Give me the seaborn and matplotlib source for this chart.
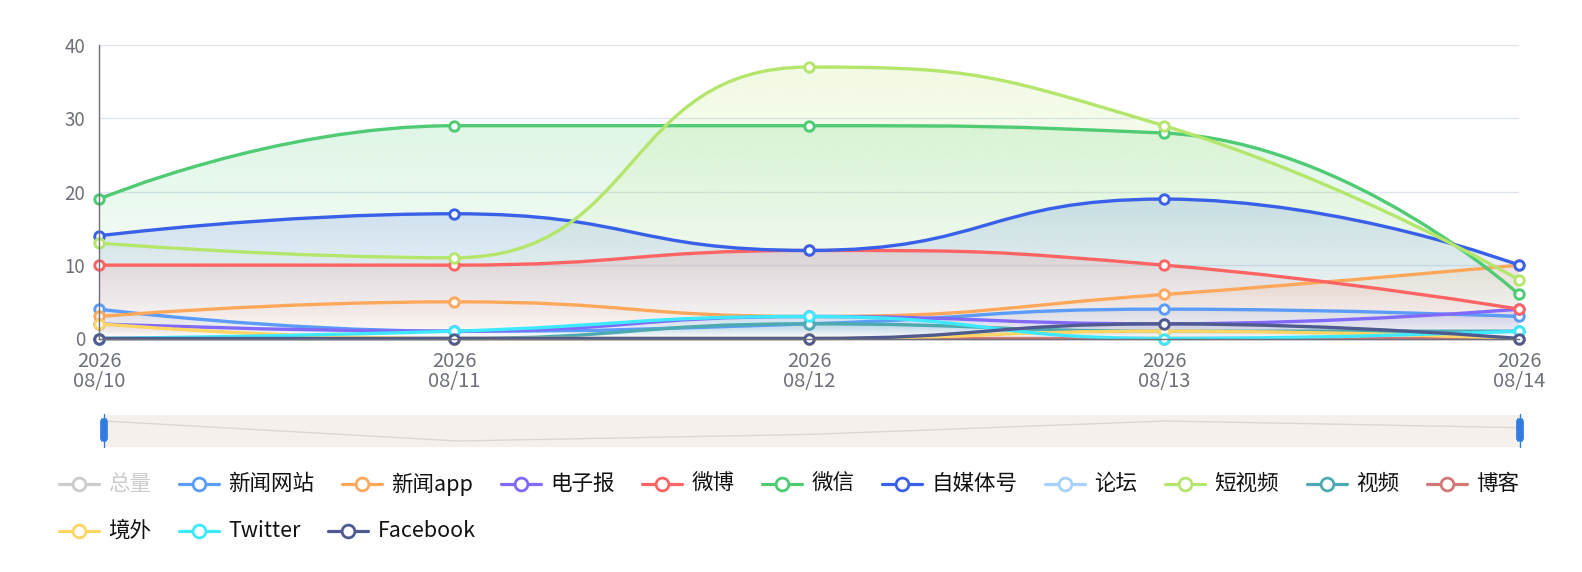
import numpy as np
import pandas as pd
import matplotlib
matplotlib.use("Agg")
import matplotlib.pyplot as plt
import seaborn as sns
from matplotlib.path import Path
from matplotlib.patches import PathPatch, FancyBboxPatch
from matplotlib.lines import Line2D
from matplotlib.colors import to_rgb

# ---- data ----
dates = ["2026-08-10", "2026-08-11", "2026-08-12", "2026-08-13", "2026-08-14"]

series_names = ["总量", "新闻网站", "新闻app", "电子报", "微博", "微信", "自媒体号",
                "论坛", "短视频", "视频", "博客", "境外", "Twitter", "Facebook"]
series_colors = ["#c8c8c8", "#5a9cf8", "#ffa85b", "#8069fb", "#ff6464", "#4ecb73", "#3860e8",
                 "#a6d2ff", "#b5e66c", "#4caab0", "#d27676", "#ffd563", "#3de9ff", "#4f5b8f"]

news_site = [4, 1, 2, 4, 3]
news_app = [3, 5, 3, 6, 10]
e_paper = [2, 1, 3, 2, 4]
weibo = [10, 10, 12, 10, 4]
wechat = [19, 29, 29, 28, 6]
we_media = [14, 17, 12, 19, 10]
forum = [0, 0, 0, 0, 0]
short_video = [13, 11, 37, 29, 8]
video = [0, 0, 2, 1, 1]
blog = [0, 0, 0, 0, 0]
overseas = [2, 0, 0, 1, 0]
twitter = [0, 1, 3, 0, 1]
facebook = [0, 0, 0, 2, 0]

# 总量 is switched off in the legend, so it has nothing drawn
series_values = [None, news_site, news_app, e_paper, weibo, wechat, we_media,
                 forum, short_video, video, blog, overseas, twitter, facebook]

y_ticks = [0, 10, 20, 30, 40]

# ---- style ----
sns.set_theme(style="white")
plt.rcParams['font.family'] = ['Noto Sans CJK SC', 'DejaVu Sans']

W, H = 1582, 572
AXIS_GREY = "#6e7079"
fig = plt.figure(figsize=(W / 100, H / 100), dpi=100)
fig.patch.set_facecolor("white")


def px_box(x0, y0, x1, y1):
    # pixel box (top-left origin) -> figure fraction rect
    return [x0 / W, 1 - y1 / H, (x1 - x0) / W, (y1 - y0) / H]


ax = fig.add_axes(px_box(99, 45, 1519, 338.5))


def smooth_path(xs, ys, sx, sy, smooth=0.5):
    # echarts style smooth line: bezier control points clamped between neighbours
    px = [x * sx for x in xs]
    py = [y * sy for y in ys]
    n = len(px)
    verts = [(px[0], py[0])]
    codes = [Path.MOVETO]
    cp0 = (px[0], py[0])
    for i in range(1, n):
        x, y = px[i], py[i]
        prx, pry = px[i - 1], py[i - 1]
        if i == n - 1:
            cp1 = (x, y)
            nxt = None
        else:
            nx, ny = px[i + 1], py[i + 1]
            vx, vy = nx - prx, ny - pry
            d0 = np.hypot(x - prx, y - pry)
            d1 = np.hypot(nx - x, ny - y)
            r = d1 / (d0 + d1)
            ncx = x + vx * smooth * r
            ncy = y + vy * smooth * r
            ncx = max(min(ncx, max(nx, x)), min(nx, x))
            ncy = max(min(ncy, max(ny, y)), min(ny, y))
            vx, vy = ncx - x, ncy - y
            c1x = x - vx * d0 / d1
            c1y = y - vy * d0 / d1
            c1x = max(min(c1x, max(prx, x)), min(prx, x))
            c1y = max(min(c1y, max(pry, y)), min(pry, y))
            vx, vy = x - c1x, y - c1y
            cp1 = (c1x, c1y)
            nxt = (x + vx * d1 / d0, y + vy * d1 / d0)
        verts += [cp0, cp1, (x, y)]
        codes += [Path.CURVE4] * 3
        cp0 = nxt
    verts = [(vx_ / sx, vy_ / sy) for vx_, vy_ in verts]
    return verts, codes


x_pos = np.arange(len(dates))
sx = (1519 - 99) / (len(dates) - 1)
sy = (338.5 - 45) / 40.0
area_alpha = 0.18

for i, (name, vals, col) in enumerate(zip(series_names, series_values, series_colors)):
    if vals is None:
        continue
    verts, codes = smooth_path(list(x_pos), vals, sx, sy)
    z = 2 + i * 0.01

    top = max(vals)
    if top > 0:
        area = Path(verts + [(x_pos[-1], 0), (x_pos[0], 0), (x_pos[0], 0)],
                    codes + [Path.LINETO, Path.LINETO, Path.CLOSEPOLY])
        grad = np.zeros((256, 1, 4))
        grad[..., :3] = to_rgb(col)
        grad[..., 3] = np.linspace(0, area_alpha, 256)[:, None]
        im = ax.imshow(grad, extent=[x_pos[0], x_pos[-1], 0, top], origin="lower",
                       aspect="auto", interpolation="bilinear", zorder=1)
        im.set_clip_path(PathPatch(area, transform=ax.transData))

    ax.add_patch(PathPatch(Path(verts, codes), fill=False, edgecolor=col, lw=2.4,
                           capstyle="round", joinstyle="round", zorder=z, clip_on=False))
    sns.scatterplot(x=x_pos, y=vals, ax=ax, color=col, facecolor="white", edgecolor=col,
                    s=46, linewidth=2.1, zorder=z + 0.005, clip_on=False, legend=False)

ax.set_xlim(x_pos[0], x_pos[-1])
ax.set_ylim(0, 40)
ax.set_aspect("auto")

ax.set_yticks(y_ticks)
ax.set_yticklabels([str(t) for t in y_ticks])
ax.set_xticks(x_pos)
ax.set_xticklabels([d[:4] + "\n" + d[5:].replace("-", "/") for d in dates],
                   linespacing=0.95)
ax.tick_params(axis="y", length=0, pad=10, labelsize=13.5, labelcolor=AXIS_GREY)
ax.tick_params(axis="x", length=0, pad=9, labelsize=14.5, labelcolor=AXIS_GREY)
ax.set_xlabel("")
ax.set_ylabel("")
ax.grid(axis="y", color="#e0e6f1", lw=1)
ax.grid(axis="x", visible=False)
ax.set_axisbelow(True)
for s in ["top", "right"]:
    ax.spines[s].set_visible(False)
for s in ["left", "bottom"]:
    ax.spines[s].set_color(AXIS_GREY)
    ax.spines[s].set_linewidth(1)
ax.patch.set_alpha(0)

# ---- data zoom slider (shadow uses the first visible series) ----
sax = fig.add_axes(px_box(104, 415, 1520, 447))
sax.set_facecolor("#f5f0eb")
shadow = np.array(news_site, dtype=float)
span = shadow.max() - shadow.min()
sns.lineplot(x=x_pos, y=shadow, ax=sax, color="#dcd7d2", lw=1, legend=False)
sax.set_xlim(x_pos[0], x_pos[-1])
sax.set_ylim(shadow.min() - 0.3 * span, shadow.max() + 0.3 * span)
sax.set_xticks([])
sax.set_yticks([])
sax.set_xlabel("")
sax.set_ylabel("")
for s in sax.spines.values():
    s.set_visible(False)

HANDLE = "#2f7de1"
for hx in [104, 1520]:
    fig.add_artist(Line2D([hx / W, hx / W], [1 - 447 / H, 1 - 414 / H],
                          transform=fig.transFigure, color=HANDLE, lw=1))
    fig.add_artist(FancyBboxPatch(((hx - 3.5) / W, 1 - 441 / H), 7 / W, 22 / H,
                                  boxstyle="round,pad=0,rounding_size=0.004",
                                  transform=fig.transFigure, facecolor=HANDLE,
                                  edgecolor=HANDLE, lw=0.5))

# ---- legend, laid out left to right and wrapped like the original ----
renderer = fig.canvas.get_renderer()
lx, row_y = 59.0, 484.0
row_gap = 47.0
right_limit = 1545.0
for i, (name, col) in enumerate(zip(series_names, series_colors)):
    off = series_values[i] is None
    icon_col = "#cccccc" if off else col
    txt_col = "#cccccc" if off else "#111111"
    t = fig.text(0, 0, name, fontsize=15.5, color=txt_col, va="center", ha="left")
    tw = t.get_window_extent(renderer).width
    item_w = 40 + 9 + tw
    if lx + item_w > right_limit:
        lx = 59.0
        row_y += row_gap
    yf = 1 - row_y / H
    t.set_position(((lx + 49) / W, yf))
    fig.add_artist(Line2D([lx / W, (lx + 40) / W], [yf, yf], transform=fig.transFigure,
                          color=icon_col, lw=2.3))
    fig.add_artist(Line2D([(lx + 20) / W], [yf], transform=fig.transFigure, marker="o",
                          markersize=9.2, markerfacecolor="white", markeredgecolor=icon_col,
                          markeredgewidth=2.0, linestyle="none"))
    lx += item_w + 28

fig.savefig("out.png", dpi=100, facecolor="white")
